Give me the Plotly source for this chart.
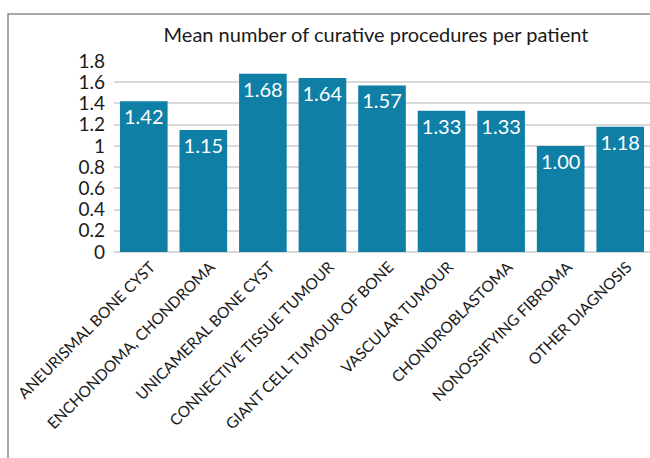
import plotly.graph_objects as go

categories = ["ANEURISMAL BONE CYST", "ENCHONDOMA, CHONDROMA", "UNICAMERAL BONE CYST",
              "CONNECTIVE TISSUE TUMOUR", "GIANT CELL TUMOUR OF BONE", "VASCULAR TUMOUR",
              "CHONDROBLASTOMA", "NONOSSIFYING FIBROMA", "OTHER DIAGNOSIS"]
values = [1.42, 1.15, 1.68, 1.64, 1.57, 1.33, 1.33, 1.00, 1.18]
y_ticks = [0, 0.2, 0.4, 0.6, 0.8, 1, 1.2, 1.4, 1.6, 1.8]
y_tick_text = ["0", "0.2", "0.4", "0.6", "0.8", "1", "1.2", "1.4", "1.6", "1.8"]

W, H = 650, 458
L, R, T, B = 114, 0, 61, 206
FONT = "Lato"

fig = go.Figure(go.Bar(
    x=categories, y=values,
    marker=dict(color="#0f7fa6", line=dict(width=0)),
    texttemplate="%{y:.2f}", textposition="inside", insidetextanchor="end",
    textfont=dict(color="white", size=20, family=FONT),
    textangle=0, cliponaxis=False,
))

pw = W - L - R
ph = H - T - B
def px_x(p):
    return (p - L) / pw
def px_y(p):
    return (H - B - p) / ph

fig.add_shape(type="rect", xref="paper", yref="paper",
              x0=px_x(8), x1=px_x(700), y0=px_y(520), y1=px_y(14),
              line=dict(color="#8a8a8a", width=1.5), fillcolor="rgba(0,0,0,0)", layer="below")

fig.update_layout(
    width=W, height=H,
    margin=dict(l=L, r=R, t=T, b=B, pad=0),
    paper_bgcolor="white", plot_bgcolor="white",
    font=dict(family=FONT, color="#1a1a1a"),
    bargap=0.2,
    showlegend=False,
    uniformtext=dict(minsize=18, mode="show"),
    title=dict(text="Mean number of curative procedures per patient",
               x=376 / W, xanchor="center", y=1 - 35 / H, yanchor="middle",
               font=dict(size=20, family=FONT, color="#1a1a1a")),
    xaxis=dict(tickangle=-45, tickfont=dict(size=15.5, family=FONT, color="#1a1a1a"),
               showgrid=False, showline=False, ticks="", ticklabelshift=7,
               ticklabelstandoff=2),
    yaxis=dict(range=[0, 1.8], tickvals=y_ticks, ticktext=y_tick_text,
               tickfont=dict(size=19, family=FONT, color="#1a1a1a"),
               showgrid=True, gridcolor="#d9d9d9", gridwidth=2,
               zeroline=True, zerolinecolor="#d9d9d9", zerolinewidth=2,
               showline=False, ticks="", ticklabelstandoff=8),
)

fig.write_html("out.html")
